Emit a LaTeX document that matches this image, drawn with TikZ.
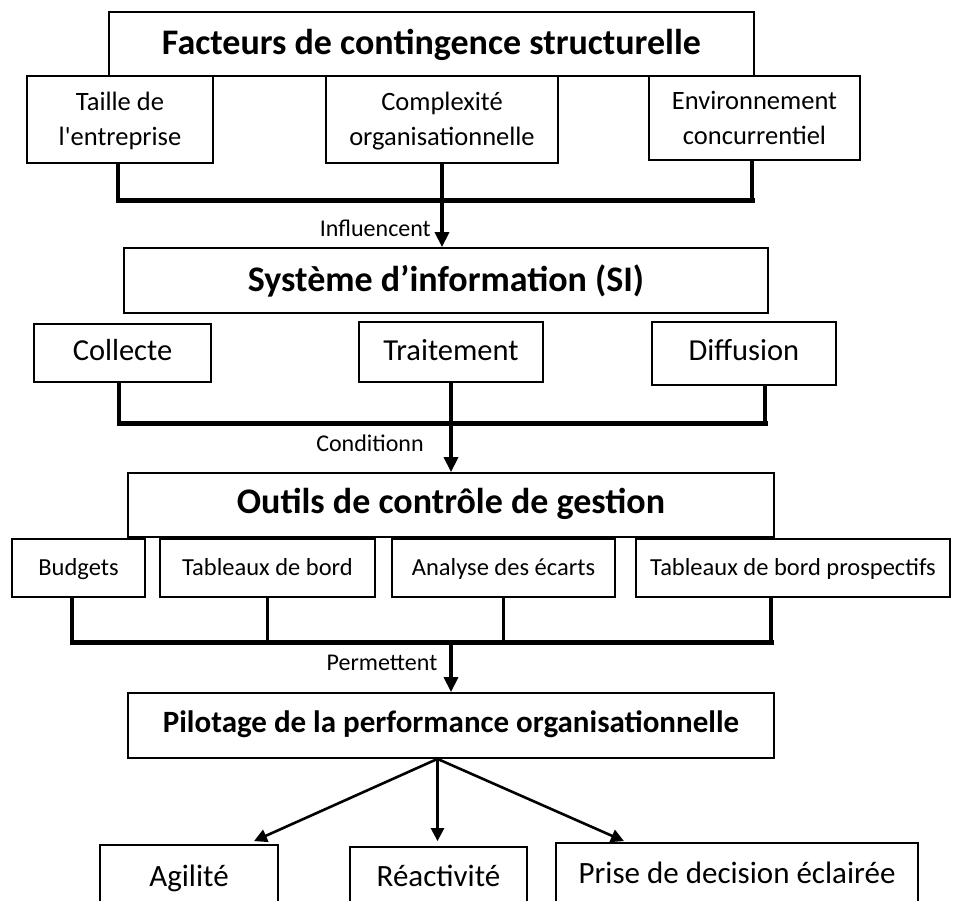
\documentclass[tikz,border=0pt]{standalone}
\usepackage{fontspec}
\setmainfont{Carlito}
\usetikzlibrary{arrows.meta,calc}
\begin{document}
\begin{tikzpicture}[x=1pt,y=-1pt,
  box/.style={draw, line width=1.8pt, inner sep=0pt, align=center, text depth=0pt},
  bl/.style={text height=#1},
  titlefont/.style={font=\fontsize{36pt}{43pt}\selectfont\bfseries},
  subA/.style={font=\fontsize{26.5pt}{35pt}\selectfont},
  subB/.style={font=\fontsize{30.5pt}{36pt}\selectfont},
  subC/.style={font=\fontsize{24.5pt}{30pt}\selectfont},
  subD/.style={font=\fontsize{31pt}{36pt}\selectfont},
  lbl/.style={font=\fontsize{24pt}{28pt}\selectfont, inner sep=0pt},
  busv/.style={line width=3.8pt},
  bush/.style={line width=5pt, line cap=rect},
  arr/.style={line width=3.5pt, -{Triangle[length=15pt,width=14pt]}},
  arrthin/.style={line width=2.6pt, -{Triangle[length=13pt,width=13pt]}}]
\useasboundingbox (0,0) rectangle (955,901);
\clip (0,0) rectangle (955,901);
% level 1
\node[box, titlefont, bl=21pt, minimum width=645pt, minimum height=64pt] (fac) at (431.5,44) {Facteurs de contingence structurelle};
\node[box, subA, bl=53pt, minimum width=186pt, minimum height=87pt] (taille) at (120,119.5) {Taille de\\l\textquotesingle entreprise};
\node[box, subA, bl=53pt, minimum width=232pt, minimum height=87pt] (compl) at (442,119.5) {Complexité\\organisationnelle};
\node[box, subA, bl=54pt, minimum width=211pt, minimum height=84pt] (env) at (754.5,118) {Environnement\\concurrentiel};
% level 2
\node[box, titlefont, bl=21pt, minimum width=644pt, minimum height=65pt] (si) at (446,280.5) {Système d’information (SI)};
\node[box, subB, bl=15pt, minimum width=177pt, minimum height=58pt] (coll) at (122.5,353) {Collecte};
\node[box, subB, bl=17pt, minimum width=184pt, minimum height=60pt] (trait) at (451,352) {Traitement};
\node[box, subB, bl=14pt, minimum width=184pt, minimum height=63pt] (diff) at (744,353.5) {Diffusion};
% level 3
\node[box, titlefont, bl=17pt, minimum width=646pt, minimum height=64pt] (outils) at (451,505) {Outils de contrôle de gestion};
\node[box, subC, bl=14pt, minimum width=133pt, minimum height=58pt] (budg) at (78.5,568) {Budgets};
\node[box, subC, bl=14pt, minimum width=215pt, minimum height=58pt] (tdb) at (267.5,568) {Tableaux de bord};
\node[box, subC, bl=14pt, minimum width=223pt, minimum height=58pt] (ana) at (503.5,568) {Analyse des écarts};
\node[box, subC, bl=14pt, minimum width=314pt, minimum height=58pt] (tdbp) at (793,568) {Tableaux de bord prospectifs};
% level 4
\node[box, font=\fontsize{31pt}{36pt}\selectfont\bfseries, bl=14pt, minimum width=646pt, minimum height=65pt] (pil) at (451,725.5) {Pilotage de la performance organisationnelle};
% level 5
\node[box, subD, bl=23pt, minimum width=178pt, minimum height=60pt] (agi) at (189,875) {Agilité};
\node[box, subD, bl=19pt, minimum width=177pt, minimum height=60pt] (rea) at (438.5,877) {Réactivité};
\node[box, subD, bl=21pt, minimum width=362pt, minimum height=60pt] (prise) at (737,873) {Prise de decision éclairée};

% bus 1
\coordinate (b1) at (444,201);
\coordinate (t1) at ($(taille.south)+(-2,0)$);
\coordinate (e1) at ($(env.south)+(-2.5,0)$);
\draw[busv] (t1) -- (t1 |- b1);
\draw[busv] (e1) -- (e1 |- b1);
\draw[bush] (t1 |- b1) -- (e1 |- b1);
\draw[arr] (compl.south) -- (compl.south |- si.north);
\node[lbl, anchor=base east] (l1) at (431,237) {Influencent};

% bus 2
\coordinate (b2) at (448,423);
\coordinate (c2) at ($(coll.south)+(-3.5,0)$);
\coordinate (d2) at ($(diff.south)+(21,0)$);
\draw[busv] (c2) -- (c2 |- b2);
\draw[busv] (d2) -- (d2 |- b2);
\draw[bush] (c2 |- b2) -- (d2 |- b2);
\draw[arr] (trait.south) -- (trait.south |- outils.north);
\node[lbl, anchor=base] (l2) at (370,451) {Conditionn};

% bus 3
\coordinate (b3) at (451,642);
\coordinate (p1) at ($(budg.south)+(-6.5,0)$);
\coordinate (p4) at ($(tdbp.south)+(-22,0)$);
\draw[busv] (p1) -- (p1 |- b3);
\draw[busv] (tdb.south) -- (tdb.south |- b3);
\draw[busv] (ana.south) -- (ana.south |- b3);
\draw[busv] (p4) -- (p4 |- b3);
\draw[bush] (p1 |- b3) -- (p4 |- b3);
\draw[arr] (b3) -- (b3 |- pil.north);
\node[lbl, anchor=base] (l3) at (382,670) {Permettent};

% bottom arrows
\coordinate (ps) at ($(pil.south)+(-13.5,0)$);
\coordinate (ta) at ($(agi.north)+(65,-3)$);
\coordinate (tr) at ($(rea.north)+(-1,-5)$);
\coordinate (tp) at ($(prise.north)+(-113,-1)$);
\draw[arrthin] (ps) -- (ta);
\draw[arrthin] (ps) -- (tr);
\draw[arrthin] (ps) -- (tp);
\end{tikzpicture}
\end{document}
